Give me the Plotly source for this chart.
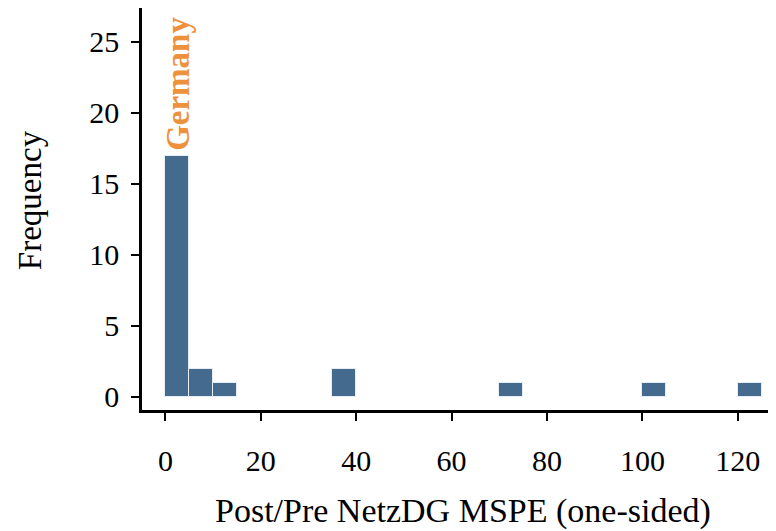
import plotly.graph_objects as go

# Histogram bins (width 5) and their counts
bin_starts = [0, 5, 10, 35, 70, 100, 120]
counts = [17, 2, 1, 2, 1, 1, 1]
bin_width = 5
x_ticks = [0, 20, 40, 60, 80, 100, 120]
y_ticks = [0, 5, 10, 15, 20, 25]
highlight_label = "Germany"
highlight_bin = 0

FONT = "Liberation Serif"
BAR = "#446a8d"
ORANGE = "#ee913d"

centers = [s + bin_width / 2 for s in bin_starts]

fig = go.Figure()
fig.add_trace(go.Bar(
    x=centers, y=counts, width=[bin_width] * len(counts),
    marker=dict(color=BAR, line=dict(color="#e6edf4", width=1)),
    showlegend=False, hoverinfo="x+y",
))

fig.add_annotation(
    x=centers[highlight_bin], y=counts[highlight_bin], xref="x", yref="y",
    text="<b>%s</b>" % highlight_label, textangle=-90, showarrow=False,
    yanchor="bottom", xanchor="center", yshift=3,
    font=dict(family=FONT, size=33, color=ORANGE),
)

fig.add_annotation(
    x=-0.1767, y=0.522, xref="paper", yref="paper", text="Frequency",
    textangle=-90, showarrow=False, xanchor="center", yanchor="middle",
    font=dict(family=FONT, size=33, color="black"),
)
fig.add_annotation(
    x=0.507, y=-0.251, xref="paper", yref="paper",
    text="Post/Pre NetzDG MSPE (one-sided)", showarrow=False,
    xanchor="center", yanchor="middle",
    font=dict(family=FONT, size=34, color="black"),
)

fig.update_layout(
    width=768, height=523,
    margin=dict(l=134, r=0, t=0, b=121),
    plot_bgcolor="white", paper_bgcolor="white",
    font=dict(family=FONT, size=30, color="black"),
    bargap=0,
)
fig.update_xaxes(
    range=[-4.9, 128.0], tickvals=x_ticks, showgrid=False, zeroline=False,
    showline=True, linecolor="black", linewidth=2.5,
    ticks="outside", ticklen=8, tickwidth=2, tickcolor="black",
    ticklabelstandoff=14, tickfont=dict(family=FONT, size=30, color="black"),
)
fig.update_yaxes(
    range=[-0.92, 27.39], tickvals=y_ticks, showgrid=False, zeroline=False,
    showline=True, linecolor="black", linewidth=2.5,
    ticks="outside", ticklen=8, tickwidth=2, tickcolor="black",
    ticklabelstandoff=6, tickfont=dict(family=FONT, size=30, color="black"),
)

fig.write_html("out.html")
